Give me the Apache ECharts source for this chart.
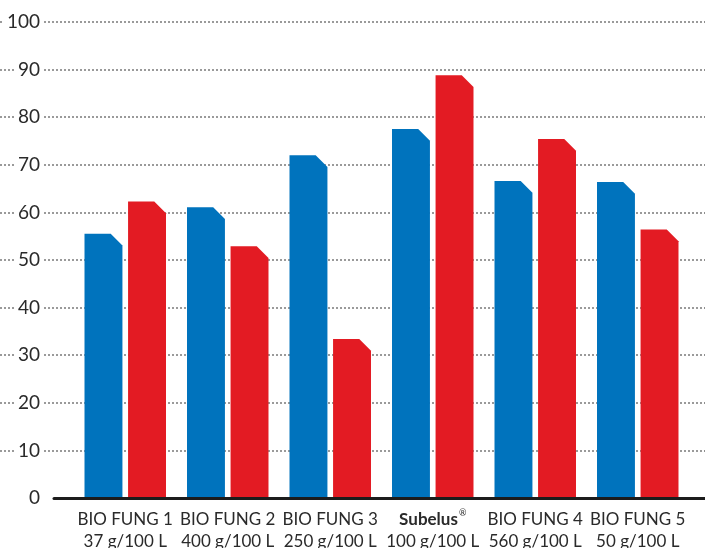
<!DOCTYPE html>
<html>
<head>
<meta charset="utf-8">
<script src="https://cdn.jsdelivr.net/npm/echarts@6/dist/echarts.min.js"></script>
<style>
html,body{margin:0;padding:0;background:#fff;}
#c{width:705px;height:548px;}
</style>
</head>
<body>
<div id="c"></div>
<script>
const categories = ['BIO FUNG 1\n37 g/100 L', 'BIO FUNG 2\n400 g/100 L', 'BIO FUNG 3\n250 g/100 L', '{b|Subelus}{sup|®}\n100 g/100 L', 'BIO FUNG 4\n560 g/100 L', 'BIO FUNG 5\n50 g/100 L'];
const blueValues = [55.5, 61.1, 72.0, 77.5, 66.6, 66.4];
const redValues = [62.3, 52.9, 33.4, 88.8, 75.4, 56.4];
const yTicks = [0, 10, 20, 30, 40, 50, 60, 70, 80, 90, 100];

const FONT = 'Lato, "Open Sans", sans-serif';

function makeRender(side, color) {
  return function (params, api) {
    const idx = api.value(0);
    const val = api.value(1);
    const top = api.coord([idx, val]);
    const base = api.coord([idx, 0]);
    const band = api.size([1, 0])[0];
    const bw = band * 0.37;
    const gap = band * 0.055;
    const cx = top[0] + side * (bw / 2 + gap / 2);
    const x0 = cx - bw / 2, x1 = cx + bw / 2;
    const yb = base[1] - 1;
    const yt = top[1];
    const ch = Math.min(bw * 0.31, (yb - yt));
    return {
      type: 'polygon',
      shape: { points: [[x0, yb], [x0, yt], [x1 - ch, yt], [x1, yt + ch], [x1, yb]] },
      style: { fill: color }
    };
  };
}

const chart = echarts.init(document.getElementById('c'));
chart.setOption({
  animation: false,
  backgroundColor: '#fff',
  grid: [
    { left: 0, right: 0, top: 22, bottom: 50, outerBoundsMode: 'none', containLabel: false },
    { left: 54, right: 0, top: 22, bottom: 50, outerBoundsMode: 'none', containLabel: false },
    { left: 74, right: 16, top: 22, bottom: 50, outerBoundsMode: 'none', containLabel: false }
  ],
  xAxis: [
    { gridIndex: 0, type: 'value', min: 0, max: 1, show: false },
    { gridIndex: 1, type: 'value', min: 0, max: 1, z: 10,
      axisLine: { show: true, lineStyle: { color: '#1c1c1c', width: 3 } },
      axisTick: { show: false }, axisLabel: { show: false }, splitLine: { show: false } },
    { gridIndex: 2, type: 'category', data: categories,
      axisLine: { show: false }, axisTick: { show: false },
      axisLabel: {
        margin: 11, fontSize: 17, lineHeight: 22, color: '#2a2a2a', fontFamily: FONT,
        interval: 0,
        rich: {
          b: { fontSize: 17, fontWeight: 'bold', color: '#2a2a2a', fontFamily: FONT, lineHeight: 22 },
          sup: { fontSize: 9, color: '#2a2a2a', fontFamily: FONT, verticalAlign: 'top', lineHeight: 22, padding: [0, 0, 8, 1] }
        }
      } }
  ],
  yAxis: [
    { gridIndex: 0, type: 'value', min: yTicks[0], max: yTicks[yTicks.length - 1], interval: 10,
      axisLine: { show: false }, axisTick: { show: false },
      axisLabel: { inside: true, margin: 42, align: 'right', fontSize: 19, color: '#2a2a2a', fontFamily: FONT,
        backgroundColor: '#fff', padding: [0, 2, 0, 3] },
      splitLine: { show: true, showMinLine: false, lineStyle: { type: [2, 2], color: '#8f8f8f', width: 1.8 } } },
    { gridIndex: 1, type: 'value', min: 0, max: 100, show: false },
    { gridIndex: 2, type: 'value', min: 0, max: 100, show: false }
  ],
  series: [
    { type: 'custom', name: 'A', xAxisIndex: 2, yAxisIndex: 2, z: 3,
      renderItem: makeRender(-1, '#0073bd'),
      data: blueValues.map((v, i) => [i, v]) },
    { type: 'custom', name: 'B', xAxisIndex: 2, yAxisIndex: 2, z: 3,
      renderItem: makeRender(1, '#e31b23'),
      data: redValues.map((v, i) => [i, v]) }
  ]
});
</script>
</body>
</html>
